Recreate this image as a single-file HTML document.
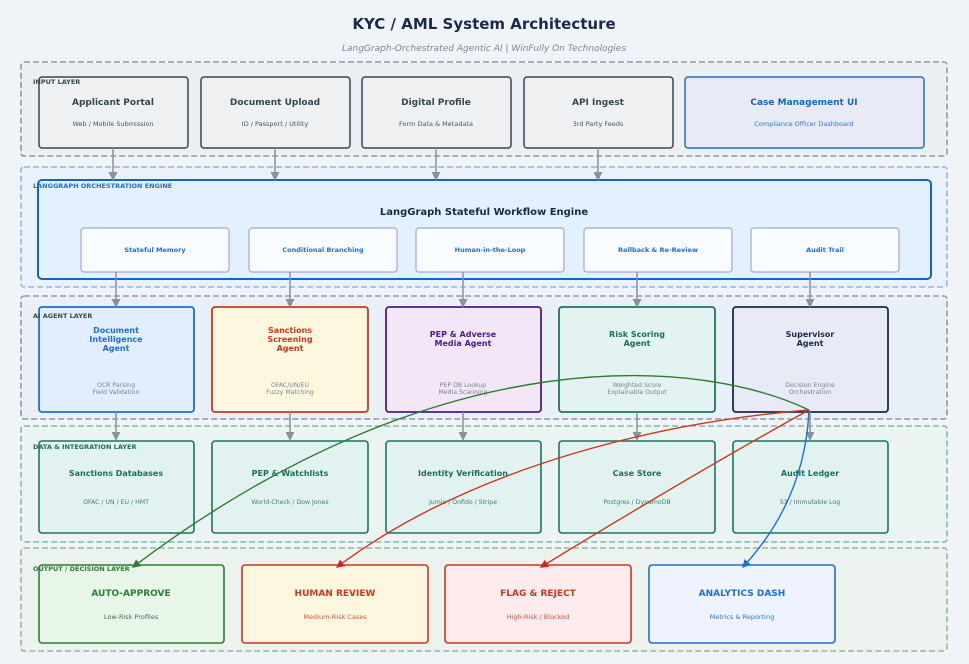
<!DOCTYPE html>
<html><head><meta charset="utf-8"><style>
html,body{margin:0;padding:0;background:#f0f4f8;}
svg{display:block;font-family:"DejaVu Sans","Liberation Sans",sans-serif;}
</style></head><body>
<svg width="969" height="664" viewBox="0 0 969 664" xmlns="http://www.w3.org/2000/svg">
<defs>
<marker id="ag" markerWidth="8" markerHeight="8" refX="4" refY="4" orient="auto"><path d="M0,1 L6,4 L0,7 z" fill="#8a9299"/></marker>
<marker id="mg" markerWidth="8" markerHeight="8" refX="5" refY="4" orient="auto"><path d="M0,1 L6,4 L0,7 z" fill="#2e7d32"/></marker>
<marker id="mr" markerWidth="8" markerHeight="8" refX="5" refY="4" orient="auto"><path d="M0,1 L6,4 L0,7 z" fill="#c62828"/></marker>
<marker id="mb" markerWidth="8" markerHeight="8" refX="5" refY="4" orient="auto"><path d="M0,1 L6,4 L0,7 z" fill="#1e6fd0"/></marker>
</defs>
<rect width="969" height="664" fill="#f0f4f8"/>
<text x="484" y="29" text-anchor="middle" font-size="15" font-weight="bold" fill="#1a2b48">KYC / AML System Architecture</text>
<text x="484" y="51" text-anchor="middle" font-size="9" font-style="italic" fill="#7a8896">LangGraph-Orchestrated Agentic AI  |  WinFully On Technologies</text>

<!-- layer panels -->
<rect x="21" y="62" width="926" height="94" rx="3" fill="#edf0f3" stroke="#8f99a2" stroke-width="1.6" stroke-dasharray="6,3"/>
<rect x="21" y="167" width="926" height="120" rx="3" fill="#eaf1fa" stroke="#8fb6e4" stroke-width="1.6" stroke-dasharray="6,3"/>
<rect x="21" y="296" width="926" height="123" rx="3" fill="#eaf0f8" stroke="#8f99a2" stroke-width="1.6" stroke-dasharray="6,3"/>
<rect x="21" y="426" width="926" height="116" rx="3" fill="#ebf3f3" stroke="#86b8ab" stroke-width="1.6" stroke-dasharray="6,3"/>
<rect x="21" y="548" width="926" height="103" rx="3" fill="#ecf3ef" stroke="#95b89a" stroke-width="1.6" stroke-dasharray="6,3"/>

<!-- input boxes -->
<g font-size="9" font-weight="bold" text-anchor="middle">
<rect x="39" y="77" width="149" height="71" rx="3" fill="#eef0f2" stroke="#37474f" stroke-width="1.5"/>
<rect x="201" y="77" width="149" height="71" rx="3" fill="#eef0f2" stroke="#37474f" stroke-width="1.5"/>
<rect x="362" y="77" width="149" height="71" rx="3" fill="#eef0f2" stroke="#37474f" stroke-width="1.5"/>
<rect x="524" y="77" width="149" height="71" rx="3" fill="#eef0f2" stroke="#37474f" stroke-width="1.5"/>
<rect x="685" y="77" width="239" height="71" rx="3" fill="#e8ebf6" stroke="#1e6fd0" stroke-width="1.5"/>
<text x="113" y="105" fill="#37474f">Applicant Portal</text>
<text x="275" y="105" fill="#37474f">Document Upload</text>
<text x="436" y="105" fill="#37474f">Digital Profile</text>
<text x="598" y="105" fill="#37474f">API Ingest</text>
<text x="804" y="105" fill="#1565c0">Case Management UI</text>
</g>
<g font-size="6.5" text-anchor="middle">
<text x="113" y="126" fill="#4a5560">Web / Mobile Submission</text>
<text x="275" y="126" fill="#4a5560">ID / Passport / Utility</text>
<text x="436" y="126" fill="#4a5560">Form Data &amp; Metadata</text>
<text x="598" y="126" fill="#4a5560">3rd Party Feeds</text>
<text x="804" y="126" fill="#2a78d6">Compliance Officer Dashboard</text>
</g>
<text x="33" y="84" font-size="6.5" font-weight="bold" fill="#37474f">INPUT LAYER</text>

<!-- orchestration -->
<rect x="38" y="180" width="893" height="99" rx="4" fill="#e3f0fd" stroke="#1565c0" stroke-width="2"/>
<text x="33" y="188" font-size="6.5" font-weight="bold" fill="#1e6fd0">LANGGRAPH ORCHESTRATION ENGINE</text>
<text x="484" y="215" text-anchor="middle" font-size="10" font-weight="bold" fill="#1a2b48">LangGraph Stateful Workflow Engine</text>
<g font-size="6.5" font-weight="bold" text-anchor="middle" fill="#1e6fd0">
<rect x="81" y="228" width="148" height="44" rx="3" fill="#f8fbff" stroke="#9fa8da" stroke-width="1.2"/>
<rect x="249" y="228" width="148" height="44" rx="3" fill="#f8fbff" stroke="#9fa8da" stroke-width="1.2"/>
<rect x="416" y="228" width="148" height="44" rx="3" fill="#f8fbff" stroke="#9fa8da" stroke-width="1.2"/>
<rect x="584" y="228" width="148" height="44" rx="3" fill="#f8fbff" stroke="#9fa8da" stroke-width="1.2"/>
<rect x="751" y="228" width="148" height="44" rx="3" fill="#f8fbff" stroke="#9fa8da" stroke-width="1.2"/>
<text x="155" y="252">Stateful Memory</text>
<text x="323" y="252">Conditional Branching</text>
<text x="490" y="252">Human-in-the-Loop</text>
<text x="658" y="252">Rollback &amp; Re-Review</text>
<text x="825" y="252">Audit Trail</text>
</g>

<!-- agents -->
<rect x="39" y="307" width="155" height="105" rx="3" fill="#e0eefd" stroke="#1e6fd0" stroke-width="1.8"/>
<rect x="212" y="307" width="156" height="105" rx="3" fill="#fdf7e0" stroke="#c9391e" stroke-width="1.8"/>
<rect x="386" y="307" width="155" height="105" rx="3" fill="#f3e6f6" stroke="#4a1a94" stroke-width="1.8"/>
<rect x="559" y="307" width="156" height="105" rx="3" fill="#e2f3f1" stroke="#1b7563" stroke-width="1.8"/>
<rect x="733" y="307" width="155" height="105" rx="3" fill="#e8eaf6" stroke="#1a2b48" stroke-width="1.8"/>
<text x="33" y="318" font-size="6.5" font-weight="bold" fill="#37474f">AI AGENT LAYER</text>
<g font-size="8" font-weight="bold" text-anchor="middle">
<text x="116" y="333" fill="#1e6fd0">Document</text><text x="116" y="342" fill="#1e6fd0">Intelligence</text><text x="116" y="351" fill="#1e6fd0">Agent</text>
<text x="290" y="333" fill="#c9391e">Sanctions</text><text x="290" y="342" fill="#c9391e">Screening</text><text x="290" y="351" fill="#c9391e">Agent</text>
<text x="463" y="337" fill="#4a1a94">PEP &amp; Adverse</text><text x="463" y="346" fill="#4a1a94">Media Agent</text>
<text x="637" y="337" fill="#1b6f5c">Risk Scoring</text><text x="637" y="346" fill="#1b6f5c">Agent</text>
<text x="810" y="337" fill="#1a2b48">Supervisor</text><text x="810" y="346" fill="#1a2b48">Agent</text>
</g>
<g font-size="6.2" text-anchor="middle" fill="#7a8590">
<text x="116" y="387">OCR Parsing</text><text x="116" y="394">Field Validation</text>
<text x="290" y="387">OFAC/UN/EU</text><text x="290" y="394">Fuzzy Matching</text>
<text x="463" y="387">PEP DB Lookup</text><text x="463" y="394">Media Scanning</text>
<text x="637" y="387">Weighted Score</text><text x="637" y="394">Explainable Output</text>
<text x="810" y="387">Decision Engine</text><text x="810" y="394">Orchestration</text>
</g>

<!-- data -->
<g fill="#e2f2f0" stroke="#1b7563" stroke-width="1.6">
<rect x="39" y="441" width="155" height="92" rx="3"/>
<rect x="212" y="441" width="156" height="92" rx="3"/>
<rect x="386" y="441" width="155" height="92" rx="3"/>
<rect x="559" y="441" width="156" height="92" rx="3"/>
<rect x="733" y="441" width="155" height="92" rx="3"/>
</g>
<text x="33" y="449" font-size="6.5" font-weight="bold" fill="#1b6f5c">DATA &amp; INTEGRATION LAYER</text>
<g font-size="8" font-weight="bold" text-anchor="middle" fill="#1b6f5c">
<text x="116" y="476">Sanctions Databases</text>
<text x="290" y="476">PEP &amp; Watchlists</text>
<text x="463" y="476">Identity Verification</text>
<text x="637" y="476">Case Store</text>
<text x="810" y="476">Audit Ledger</text>
</g>
<g font-size="6.2" text-anchor="middle" fill="#3a8577">
<text x="116" y="504">OFAC / UN / EU / HMT</text>
<text x="290" y="504">World-Check / Dow Jones</text>
<text x="463" y="504">Jumio / Onfido / Stripe</text>
<text x="637" y="504">Postgres / DynamoDB</text>
<text x="810" y="504">S3 / Immutable Log</text>
</g>

<!-- output -->
<rect x="39" y="565" width="185" height="78" rx="3" fill="#e8f5e9" stroke="#2e7d32" stroke-width="1.6"/>
<rect x="242" y="565" width="186" height="78" rx="3" fill="#fdf7e0" stroke="#c9391e" stroke-width="1.6"/>
<rect x="445" y="565" width="186" height="78" rx="3" fill="#fdebee" stroke="#c9391e" stroke-width="1.6"/>
<rect x="649" y="565" width="186" height="78" rx="3" fill="#eef3fd" stroke="#1e6fd0" stroke-width="1.6"/>
<text x="33" y="571" font-size="6.5" font-weight="bold" fill="#2e7d32">OUTPUT / DECISION LAYER</text>
<g font-size="9" font-weight="bold" text-anchor="middle">
<text x="131" y="596" fill="#2e7d32">AUTO-APPROVE</text>
<text x="335" y="596" fill="#c9391e">HUMAN REVIEW</text>
<text x="538" y="596" fill="#c9391e">FLAG &amp; REJECT</text>
<text x="742" y="596" fill="#1e6fd0">ANALYTICS DASH</text>
</g>
<g font-size="6.5" text-anchor="middle">
<text x="131" y="619" fill="#4a6a50">Low-Risk Profiles</text>
<text x="335" y="619" fill="#d2553b">Medium-Risk Cases</text>
<text x="538" y="619" fill="#d2553b">High-Risk / Blocked</text>
<text x="742" y="619" fill="#2a78d6">Metrics &amp; Reporting</text>
</g>

<!-- gray arrows -->
<g stroke="#8a9299" stroke-width="1.5" marker-end="url(#ag)">
<line x1="113" y1="148" x2="113" y2="178"/>
<line x1="275" y1="148" x2="275" y2="178"/>
<line x1="436" y1="148" x2="436" y2="178"/>
<line x1="598" y1="148" x2="598" y2="178"/>
<line x1="116" y1="272" x2="116" y2="305"/>
<line x1="290" y1="272" x2="290" y2="305"/>
<line x1="463" y1="272" x2="463" y2="305"/>
<line x1="637" y1="272" x2="637" y2="305"/>
<line x1="810" y1="272" x2="810" y2="305"/>
<line x1="116" y1="412" x2="116" y2="438"/>
<line x1="290" y1="412" x2="290" y2="438"/>
<line x1="463" y1="412" x2="463" y2="438"/>
<line x1="637" y1="412" x2="637" y2="438"/>
<line x1="810" y1="412" x2="810" y2="438"/>
</g>

<!-- decision curves -->
<g fill="none" stroke-width="1.4">
<path d="M809,410 C700,358 440,335 133,567" stroke="#2e7d32" marker-end="url(#mg)"/>
<path d="M809,410 C680,420 480,460 337,567" stroke="#c9391e" marker-end="url(#mr)"/>
<path d="M809,410 Q700,470 541,567" stroke="#c9391e" marker-end="url(#mr)"/>
<path d="M809,410 Q805,500 743,567" stroke="#1e6fd0" marker-end="url(#mb)"/>
</g>
</svg>
</body></html>
